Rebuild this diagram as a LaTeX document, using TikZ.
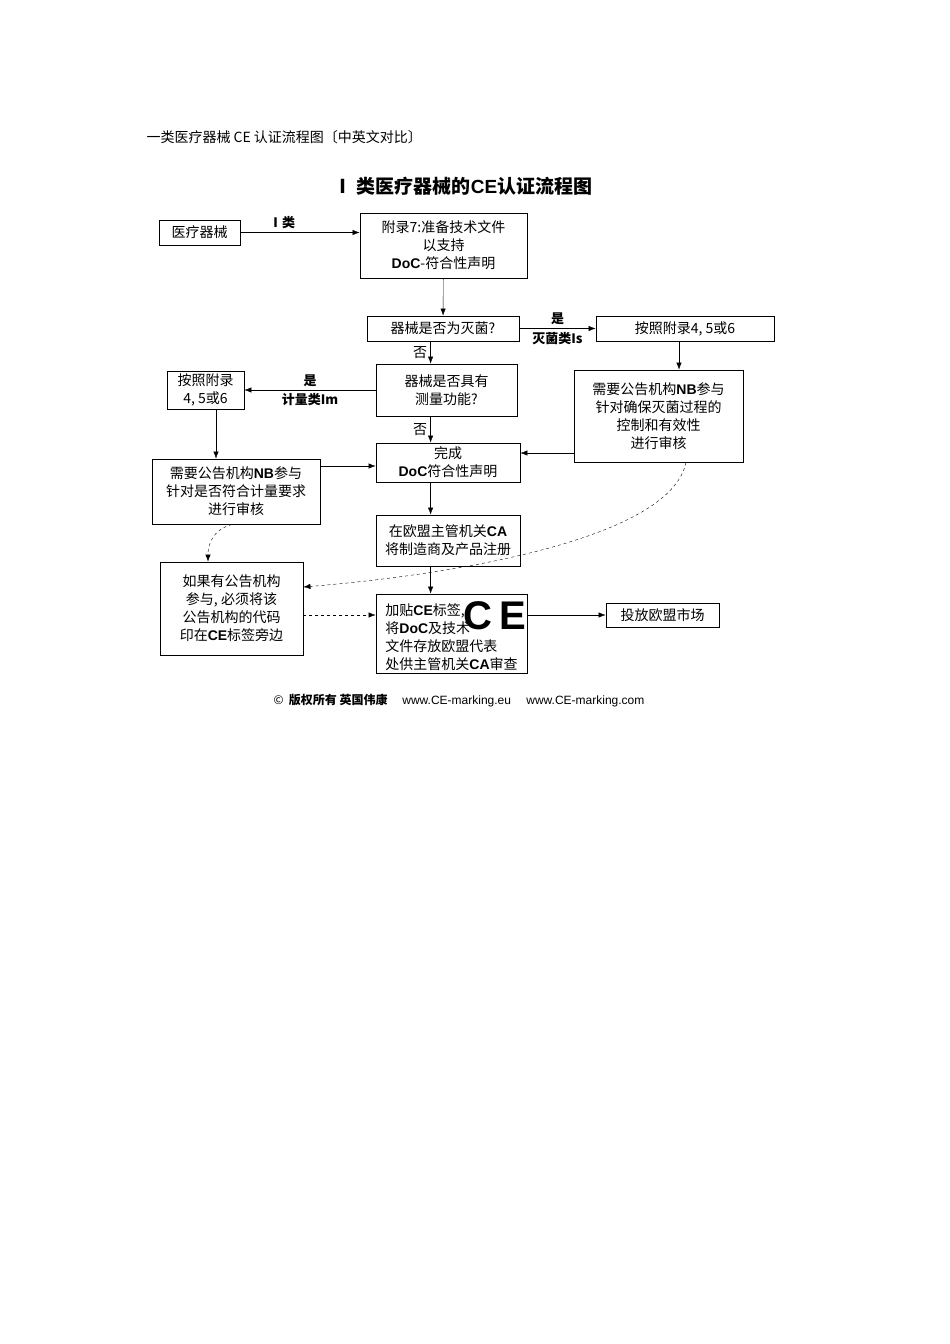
\documentclass[tikz,border=0pt]{standalone}
\usepackage{fontspec}
\setmainfont{Noto Sans CJK SC}
\newfontfamily\latinb{Liberation Sans}
\usetikzlibrary{arrows.meta}
\newcommand{\lb}[1]{{\latinb\bfseries #1}}
\tikzset{
  box/.style={draw, thick, align=center, inner sep=1pt, font=\fontsize{14}{18}\selectfont},
  flow/.style={draw, -{Latex[length=7pt]}},
  dflow/.style={draw, dashed, -{Latex[length=7pt]}},
  lab/.style={font=\fontsize{13}{15}\selectfont\bfseries}
}
\begin{document}
\begin{tikzpicture}[x=1pt,y=-1pt]
  \useasboundingbox (0,0) rectangle (950,1344);
  \node[anchor=west, font=\fontsize{14}{16}\selectfont] (head) at (143,137) {一类医疗器械 CE 认证流程图〔中英文对比〕};
  \node[font=\fontsize{19}{22}\selectfont\bfseries] (title) at (463,186) {Ⅰ 类医疗器械的\lb{CE}认证流程图};

  \node[box, minimum width=81, minimum height=25] (dev) at (199.5,232.5) {医疗器械};
  \node[box, minimum width=167, minimum height=65] (ann7) at (443.5,245.5) {附录7:准备技术文件\\以支持\\\lb{DoC}-符合性声明};
  \node[box, minimum width=152, minimum height=25] (ster) at (443,328.5) {器械是否为灭菌?};
  \node[box, minimum width=178, minimum height=25] (annR) at (685,328.5) {按照附录4, 5或6};
  \node[box, minimum width=141, minimum height=52] (meas) at (446.5,390) {器械是否具有\\测量功能?};
  \node[box, minimum width=77, minimum height=38] (annL) at (205.5,390) {按照附录\\4, 5或6};
  \node[box, minimum width=169, minimum height=92] (nbR) at (658.5,416) {需要公告机构\lb{NB}参与\\针对确保灭菌过程的\\控制和有效性\\进行审核};
  \node[box, minimum width=144, minimum height=39] (doc) at (448,462.5) {完成\\\lb{DoC}符合性声明};
  \node[box, minimum width=168, minimum height=65] (nbL) at (236,491.5) {需要公告机构\lb{NB}参与\\针对是否符合计量要求\\进行审核};
  \node[box, minimum width=144, minimum height=51] (ca) at (448,540.5) {在欧盟主管机关\lb{CA}\\将制造商及产品注册};
  \node[box, minimum width=143, minimum height=93] (code) at (231.5,608.5) {如果有公告机构\\参与, 必须将该\\公告机构的代码\\印在\lb{CE}标签旁边};
  \node[box, minimum width=151, minimum height=79, align=left] (mark) at (451.5,633.5) {加贴\lb{CE}标签, \phantom{\Huge CE}\\将\lb{DoC}及技术\\文件存放欧盟代表\\处供主管机关\lb{CA}审查};
  \node[font=\fontsize{40}{40}\selectfont\latinb\bfseries] (logo) at (495,616) {C\,E};
  \node[box, minimum width=113, minimum height=24] (mkt) at (662.5,615) {投放欧盟市场};
  \node[font=\fontsize{12}{14}\selectfont] (foot) at (459,701) {©\ \ \textbf{版权所有 英国伟康}\quad\ {\latinb www.CE-marking.eu\quad\ www.CE-marking.com}};

  \draw[flow] (dev) -- node[lab, above, pos=0.35] {Ⅰ类} (ann7.west |- dev);
  \draw[flow] (ann7) -- (ster);
  \draw[flow] (ster) -- node[lab, above] {是} node[lab, below] {灭菌类Is} (annR);
  \draw[flow] (ster.south -| meas.north west) ++(55,0) coordinate (s1) -- node[left, font=\fontsize{14}{16}\selectfont] {否} (s1 |- meas.north);
  \draw[flow] (meas) -- node[lab, above] {是} node[lab, below] {计量类Im} (annL);
  \draw[flow] (s1 |- meas.south) -- node[left, font=\fontsize{14}{16}\selectfont] {否} (s1 |- doc.north);
  \draw[flow] (annR.south -| 679,0) -- (nbR.north -| 679,0);
  \draw[flow] (nbR.west |- 0,453) -- (doc.east |- 0,453);
  \draw[flow] (annL.south -| 216,0) -- (nbL.north -| 216,0);
  \draw[flow] (nbL.east |- 0,466) -- (doc.west |- 0,466);
  \draw[flow] (s1 |- doc.south) -- (s1 |- ca.north);
  \draw[flow] (s1 |- ca.south) -- (s1 |- mark.north);
  \draw[flow] (mark.east |- mkt) -- (mkt);
  \draw[dflow] (nbL.south -| 232,0) .. controls (212,530) and (208,545) .. (code.north -| 208,0);
  \draw[dflow] (nbR.south -| 686,0) .. controls (670,540) and (450,575) .. (code.east |- 0,587);
  \draw[dflow] (code.east |- 0,615) -- (mark.west |- 0,615);
\end{tikzpicture}
\end{document}
